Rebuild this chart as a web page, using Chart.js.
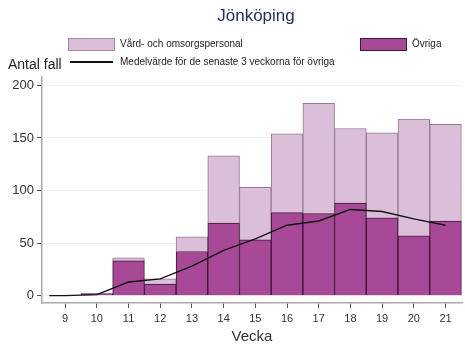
<!DOCTYPE html>
<html>
<head>
<meta charset="utf-8">
<script src="https://cdn.jsdelivr.net/npm/chart.js@4"></script>
<style>
    body { margin: 0; background: #fff; font-family: "Liberation Sans", Arial, sans-serif; }
    #wrap { position: relative; width: 465px; height: 350px; }
    .t { position: absolute; white-space: nowrap; color: #222; }
    .box { position: absolute; width: 45px; height: 11px; }
</style>
</head>
<body>
<div id="wrap">
    <canvas id="chart" width="465" height="350"></canvas>
    <div class="t" style="left:0;width:512px;top:6px;text-align:center;font-size:17px;color:#1e2d5a;">Jönköping</div>
    <div class="box" style="left:68px;top:38px;background:rgb(219,191,217);border:1px solid rgb(165,135,160);"></div>
    <div class="t" style="left:120px;top:38px;font-size:10px;">Vård- och omsorgspersonal</div>
    <div class="box" style="left:360px;top:38px;background:rgb(168,73,152);border:1px solid rgb(70,25,65);"></div>
    <div class="t" style="left:412px;top:38px;font-size:10px;">Övriga</div>
    <div style="position:absolute;left:70px;top:61px;width:43px;height:1.5px;background:#111;"></div>
    <div class="t" style="left:120px;top:56px;font-size:10px;">Medelvärde för de senaste 3 veckorna för övriga</div>
    <div class="t" style="left:8px;top:56px;font-size:14px;">Antal fall</div>
</div>
<script>
// weeks and case counts
const weeks = [9, 10, 11, 12, 13, 14, 15, 16, 17, 18, 19, 20, 21];
const ovriga = [0, 2, 33, 11, 42, 69, 53, 79, 78, 88, 74, 57, 71];
const vardpersonal = [0, 0, 3, 5, 14, 64, 50, 75, 105, 71, 81, 111, 92];
const avgWeeks = [8.5, 9, 10, 11, 12, 13, 14, 15, 16, 17, 18, 19, 20, 21];
const avgOvriga = [0, 0, 1, 13, 16, 28, 43, 54, 67, 71, 82, 80, 73, 67];
const yTicks = [0, 50, 100, 150, 200];

const pts = (xs, ys) => xs.map((x, i) => ({ x: x, y: ys[i] }));

new Chart(document.getElementById('chart'), {
    type: 'bar',
    data: {
        datasets: [{
            type: 'line',
            label: 'Medelvärde',
            data: pts(avgWeeks, avgOvriga),
            borderColor: '#111',
            borderWidth: 1.4,
            pointRadius: 0,
            tension: 0,
            stack: 'avg',
            order: 0
        }, {
            label: 'Övriga',
            data: pts(weeks, ovriga),
            backgroundColor: 'rgb(168,73,152)',
            borderColor: 'rgb(60,20,55)',
            borderWidth: 1,
            barPercentage: 1,
            categoryPercentage: 1,
            stack: 'bars',
            order: 1
        }, {
            label: 'Vård- och omsorgspersonal',
            data: pts(weeks, vardpersonal),
            backgroundColor: 'rgb(219,191,217)',
            borderColor: 'rgb(150,120,145)',
            borderWidth: 1,
            barPercentage: 1,
            categoryPercentage: 1,
            stack: 'bars',
            order: 2
        }]
    },
    options: {
        responsive: false,
        animation: false,
        layout: { padding: { left: 0, right: 3, top: 77, bottom: 0 } },
        plugins: {
            legend: { display: false },
            tooltip: { enabled: false }
        },
        scales: {
            x: {
                type: 'linear',
                stacked: true,
                offset: false,
                min: 8.27,
                max: 21.52,
                afterBuildTicks: s => { s.ticks = weeks.map(v => ({ value: v })); },
                afterFit: s => { s.height = 47; },
                grid: { drawOnChartArea: false, offset: false, tickLength: 5, tickColor: '#555' },
                border: { color: '#aaa', width: 1.5 },
                ticks: { color: '#333', font: { size: 11, family: 'Liberation Sans' }, padding: 4, maxRotation: 0 },
                title: { display: true, text: 'Vecka', color: '#333', font: { size: 15, family: 'Liberation Sans' }, padding: { top: 3 } }
            },
            y: {
                stacked: true,
                min: -7,
                max: 208,
                afterBuildTicks: s => { s.ticks = yTicks.map(v => ({ value: v })); },
                afterFit: s => { s.width = 42; },
                grid: { color: 'rgb(234,243,243)', tickLength: 5, tickColor: '#555' },
                border: { color: '#aaa', width: 1.5 },
                ticks: { color: '#333', font: { size: 13, family: 'Liberation Sans' }, padding: 3 }
            }
        }
    }
});
</script>
</body>
</html>
